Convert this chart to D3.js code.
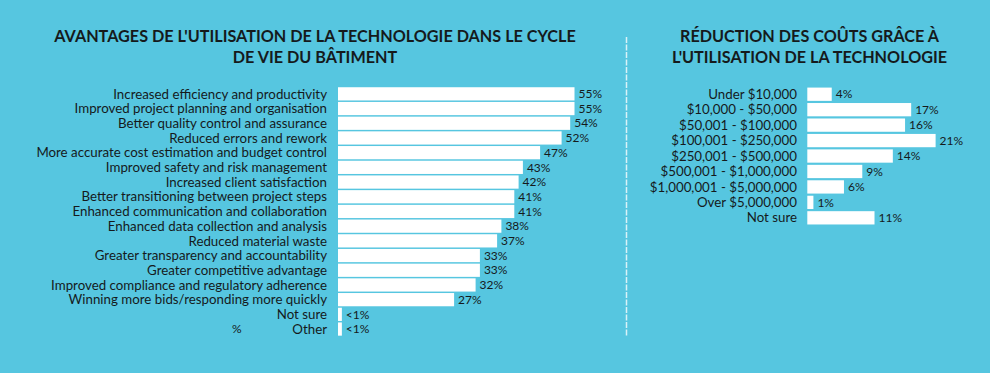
<!DOCTYPE html>
<html>
<head>
<meta charset="utf-8">
<script src="https://cdn.jsdelivr.net/npm/d3@7"></script>
<style>
  html, body { margin: 0; padding: 0; background: #56c6e0; }
  svg { display: block; font-family: Lato, "Noto Sans", sans-serif; }
</style>
</head>
<body>
<svg id="chart" width="990" height="373"></svg>
<script>
// benefits of technology (left panel)
var benefitLabels = [
  "Increased efficiency and productivity",
  "Improved project planning and organisation",
  "Better quality control and assurance",
  "Reduced errors and rework",
  "More accurate cost estimation and budget control",
  "Improved safety and risk management",
  "Increased client satisfaction",
  "Better transitioning between project steps",
  "Enhanced communication and collaboration",
  "Enhanced data collection and analysis",
  "Reduced material waste",
  "Greater transparency and accountability",
  "Greater competitive advantage",
  "Improved compliance and regulatory adherence",
  "Winning more bids/responding more quickly",
  "Not sure",
  "Other"
];
var benefitValues = [55, 55, 54, 52, 47, 43, 42, 41, 41, 38, 37, 33, 33, 32, 27, 0.9, 0.9];

// cost reduction (right panel)
var costLabels = [
  "Under $10,000",
  "$10,000 - $50,000",
  "$50,001 - $100,000",
  "$100,001 - $250,000",
  "$250,001 - $500,000",
  "$500,001 - $1,000,000",
  "$1,000,001 - $5,000,000",
  "Over $5,000,000",
  "Not sure"
];
var costValues = [4, 17, 16, 21, 14, 9, 6, 1, 11];

var leftTitle = ["AVANTAGES DE L'UTILISATION DE LA TECHNOLOGIE DANS LE CYCLE", "DE VIE DU BÂTIMENT"];
var rightTitle = ["RÉDUCTION DES COÛTS GRÂCE À", "L'UTILISATION DE LA TECHNOLOGIE"];

var textColor = "#151a1c";
var svg = d3.select("#chart");

var fmt = function(v){ return v < 1 ? "<1%" : v + "%"; };

// titles
function drawTitle(lines, cx) {
  svg.append("text")
    .attr("text-anchor", "middle")
    .attr("font-size", 16.2)
    .attr("font-weight", 700)
    .attr("fill", textColor)
    .selectAll("tspan")
    .data(lines)
    .enter().append("tspan")
    .attr("x", cx)
    .attr("y", function(d, i){ return 41.5 + i * 21.5; })
    .text(function(d){ return d; });
}
drawTitle(leftTitle, 315);
drawTitle(rightTitle, 809.5);

// divider
svg.append("line")
  .attr("x1", 626.5).attr("x2", 626.5)
  .attr("y1", 37).attr("y2", 336)
  .attr("stroke", "#d9f2f8")
  .attr("stroke-width", 1.5)
  .attr("stroke-dasharray", "6,1.5");

function drawBars(opts) {
  var y = d3.scaleBand()
    .domain(opts.labels)
    .range([opts.top, opts.top + opts.labels.length * opts.step])
    .paddingInner(opts.pad)
    .paddingOuter(opts.pad / 2);

  var x = d3.scaleLinear()
    .domain([0, 100])
    .range([opts.x0, opts.x0 + opts.pxPerPct * 100]);

  var g = svg.append("g");
  var rows = g.selectAll("g.row")
    .data(opts.labels.map(function(l, i){ return {label: l, value: opts.values[i]}; }))
    .enter().append("g").attr("class", "row");

  rows.append("rect")
    .attr("x", x(0))
    .attr("y", function(d){ return y(d.label); })
    .attr("width", function(d){ return x(d.value) - x(0); })
    .attr("height", y.bandwidth())
    .attr("fill", "#ffffff");

  rows.append("text")
    .attr("x", opts.labelX)
    .attr("y", function(d){ return y(d.label) + y.bandwidth() / 2; })
    .attr("dy", "0.35em")
    .attr("text-anchor", "end")
    .attr("font-size", opts.labelSize)
    .attr("fill", textColor)
    .text(function(d){ return d.label; });

  rows.append("text")
    .attr("x", function(d){ return x(d.value) + 4; })
    .attr("y", function(d){ return y(d.label) + y.bandwidth() / 2; })
    .attr("dy", "0.35em")
    .attr("font-size", opts.valueSize)
    .attr("fill", textColor)
    .text(function(d){ return fmt(d.value); });

  return y;
}

var yLeft = drawBars({
  labels: benefitLabels, values: benefitValues,
  top: 86.5, step: 14.7, pad: 0.1,
  x0: 338, pxPerPct: 4.3,
  labelX: 327, labelSize: 13.3, valueSize: 12
});

drawBars({
  labels: costLabels, values: costValues,
  top: 86.5, step: 15.45, pad: 0.14,
  x0: 807.3, pxPerPct: 6.11,
  labelX: 797, labelSize: 13.3, valueSize: 12
});

// stray "%" on the Other row in the source
svg.append("text")
  .attr("x", 232)
  .attr("y", yLeft("Other") + yLeft.bandwidth() / 2)
  .attr("dy", "0.35em")
  .attr("font-size", 12)
  .attr("fill", textColor)
  .text("%");
</script>
</body>
</html>
